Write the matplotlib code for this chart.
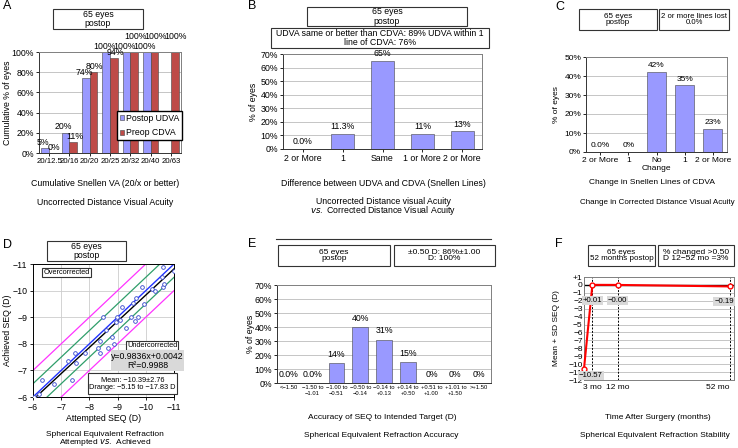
import matplotlib
matplotlib.use('Agg')
import matplotlib.pyplot as plt
from matplotlib.patches import Rectangle
from matplotlib.lines import Line2D
from matplotlib.ticker import PercentFormatter
import numpy as np

plt.rcParams['font.family'] = ['Liberation Sans', 'DejaVu Sans']
plt.rcParams['font.size'] = 6.3
plt.rcParams['axes.linewidth'] = 0.7

W, H = 738, 448
BLUE = '#9999ff'
RED = '#be4b48'

# ---- data ----
# A: cumulative Snellen VA
a_cats = ['20/12.5', '20/16', '20/20', '20/25', '20/32', '20/40', '20/63']
a_udva = [5, 20, 74, 100, 100, 100, np.nan]
a_udva_labels = ['5%', '20%', '74%', '100%', '100%', '100%', '']
a_cdva = [0, 11, 80, 94, 100, 100, 100]
a_cdva_labels = ['0%', '11%', '80%', '94%', '100%', '100%', '100%']

# B: UDVA vs CDVA
b_cats = ['2 or More', '1', 'Same', '1 or More', '2 or More']
b_vals = [0, 11.3, 65, 11, 13]
b_labels = ['0.0%', '11.3%', '65%', '11%', '13%']

# C: change in CDVA lines
c_cats = ['2 or More', '1', 'No\nChange', '1', '2 or More']
c_vals = [0, 0, 42, 35, 12.3]
c_labels = ['0.0%', '0%', '42%', '35%', '23%']

# D: attempted vs achieved SEQ
d_att = [-6.04, -6.21, -6.31, -6.75, -7.24, -7.39, -7.50, -7.54, -7.84, -8.30,
         -8.37, -8.39, -8.49, -8.58, -8.67, -8.81, -8.87, -8.94, -8.99, -9.10,
         -9.16, -9.31, -9.47, -9.55, -9.60, -9.64, -9.73, -9.85, -9.93, -10.21,
         -10.32, -10.56, -10.62, -10.60, -10.64, -11.0]
d_ach = [-6.00, -6.10, -6.64, -6.50, -7.36, -6.64, -7.65, -7.26, -7.67, -7.85,
         -7.66, -8.11, -8.99, -8.51, -7.86, -8.26, -8.01, -8.83, -8.99, -8.88,
         -9.37, -8.61, -8.99, -9.52, -8.86, -9.74, -8.99, -10.15, -9.49, -10.06,
         -9.99, -10.50, -10.87, -10.15, -10.25, -10.75]
d_slope, d_icpt = 0.9836, 0.0042
d_range = [-6, -11]

# E: SEQ accuracy
e_cats = ['<\u22121.50', '\u22121.50 to\n\u22121.01', '\u22121.00 to\n\u22120.51',
          '\u22120.50 to\n\u22120.14', '\u22120.14 to\n+0.13', '+0.14 to\n+0.50',
          '+0.51 to\n+1.00', '+1.01 to\n+1.50', '>+1.50']
e_vals = [0, 0, 14, 40, 31, 15, 0, 0, 0]
e_labels = ['0.0%', '0.0%', '14%', '40%', '31%', '15%', '0%', '0%', '0%']

# F: stability
f_months = [0, 3, 12, 52]
f_seq = [-10.57, 0.01, -0.00, -0.19]
f_labels = ['\u221210.57', '+0.01', '\u22120.00', '\u22120.19']
f_ticks = [3, 12, 52]
f_ticklabels = ['3 mo', '12 mo', '52 mo']


def rect(l, t, r, b):
    return [l / W, 1 - b / H, (r - l) / W, (b - t) / H]


def box(l, t, r, b, text, fc='white', ec='#333333', fs=6.3):
    fig.add_artist(Rectangle((l / W, 1 - b / H), (r - l) / W, (b - t) / H,
                             transform=fig.transFigure, fc=fc, ec=ec, lw=0.8))
    fig.text((l + r) / 2 / W, 1 - (t + b) / 2 / H, text, ha='center',
             va='center', fontsize=fs, linespacing=1.0)


def ftext(x, y, s, **kw):
    fig.text(x / W, 1 - y / H, s, ha='center', va='center', **kw)


def ylabel_at(ax, text, xpix, left, right, fs=6.3):
    # xpix = right edge of the rotated label, in figure pixels
    ax.set_ylabel(text, fontsize=fs)
    ax.yaxis.set_label_coords((xpix - left) / (right - left), 0.5)


def style_bar_axes(ax, top, step):
    ax.set_ylim(0, top)
    ax.set_yticks(np.arange(0, top + 1, step))
    ax.yaxis.set_major_formatter(PercentFormatter(decimals=0))
    ax.yaxis.grid(True, color='#bbbbbb', lw=0.6)
    ax.set_axisbelow(True)
    for s in ax.spines.values():
        s.set_color('#808080')
    ax.spines['left'].set_color('#333333')
    ax.spines['bottom'].set_color('#333333')
    ax.tick_params(length=2, width=0.6, pad=1.5, labelsize=6.3)


def bar_labels(ax, xs, vals, labels, dy=2, fs=6.3):
    for x, v, lab in zip(xs, vals, labels):
        if lab:
            ax.annotate(lab, (x, 0 if np.isnan(v) else v), xytext=(0, dy),
                        textcoords='offset points', ha='center', va='bottom',
                        fontsize=fs, annotation_clip=False)


fig = plt.figure(figsize=(W / 100, H / 100), dpi=100)

# ---------------- A ----------------
ax = fig.add_axes(rect(39, 52, 181, 153))
x = np.arange(len(a_cats))
w = 0.38
ax.bar(x - w / 2, a_udva, w, color=BLUE, edgecolor='#444444', lw=0.4,
       label='Postop UDVA')
ax.bar(x + w / 2, a_cdva, w, color=RED, edgecolor='#444444', lw=0.4,
       label='Preop CDVA')
style_bar_axes(ax, 100, 20)
ax.set_xlim(-0.5, len(a_cats) - 0.5)
ax.set_xticks(x)
ax.set_xticklabels(a_cats, fontsize=5.6)
ylabel_at(ax, 'Cumulative % of eyes', 12, 39, 181)
for xi, v, lab in zip(x - w / 2, a_udva, a_udva_labels):
    if lab:
        ax.annotate(lab, (xi - 0.1, v), xytext=(0, 1), textcoords='offset points',
                    ha='center', va='bottom', annotation_clip=False)
for xi, v, lab in zip(x + w / 2, a_cdva, a_cdva_labels):
    dy = 8 if v >= 100 else 1
    ax.annotate(lab, (xi + 0.05, v), xytext=(0, dy), textcoords='offset points',
                ha='center', va='bottom', annotation_clip=False)
ax.legend(loc='lower left', bbox_to_anchor=(0.55, 0.13), fontsize=6.3,
          frameon=True, fancybox=False, edgecolor='black', framealpha=1,
          handlelength=0.5, handleheight=0.5, handletextpad=0.2,
          borderpad=0.3, labelspacing=0.6, borderaxespad=0)
box(53, 9, 143, 29, '65 eyes\npostop')
ftext(105, 183, 'Cumulative Snellen VA (20/x or better)')
ftext(105, 202, 'Uncorrected Distance Visual Acuity')
fig.text(3 / W, 1 - 6 / H, 'A', fontsize=9, va='center')

# ---------------- B ----------------
ax = fig.add_axes(rect(283, 54, 482, 149))
x = np.arange(len(b_cats))
ax.bar(x, b_vals, 0.58, color=BLUE, edgecolor='#444444', lw=0.4)
style_bar_axes(ax, 70, 10)
ax.set_xlim(-0.5, len(b_cats) - 0.5)
ax.set_xticks(x)
ax.set_xticklabels(b_cats)
ylabel_at(ax, '% of eyes', 258, 283, 482)
bar_labels(ax, x, b_vals, b_labels)
box(307, 7, 467, 26, '65 eyes\npostop')
box(271, 28, 489, 48, 'UDVA same or better than CDVA: 89% UDVA within 1\nline of CDVA: 76%')
ftext(383, 183, 'Difference between UDVA and CDVA (Snellen Lines)')
ftext(383, 201, 'Uncorrected Distance visual Acuity')
fig.text(383 / W, 1 - 210.5 / H, r'$\it{vs.}$ Corrected Distance Visual Acuity',
         ha='center', va='center')
fig.text(248 / W, 1 - 6 / H, 'B', fontsize=9, va='center')

# ---------------- C ----------------
ax = fig.add_axes(rect(586, 57, 727, 152))
x = np.arange(len(c_cats))
ax.bar(x, c_vals, 0.68, color=BLUE, edgecolor='#444444', lw=0.4)
style_bar_axes(ax, 50, 10)
ax.set_xlim(-0.5, len(c_cats) - 0.5)
ax.set_xticks(x)
ax.set_xticklabels(c_cats, fontsize=6, linespacing=1.3)
ax.tick_params(axis='y', labelsize=6)
ylabel_at(ax, '% of eyes', 560, 586, 727, fs=6)
bar_labels(ax, x, c_vals, c_labels, fs=6)
box(579, 9, 657, 30, '65 eyes\npostop', fs=5.8)
box(659, 9, 729, 30, '2 or more lines lost\n0.0%', fs=5.6)
ftext(652, 183, 'Change in Snellen Lines of CDVA', fontsize=6)
ftext(657, 202, 'Change in Corrected Distance Visual Acuity', fontsize=5.8)
fig.text(555 / W, 1 - 7 / H, 'C', fontsize=9, va='center')

# ---------------- D ----------------
ax = fig.add_axes(rect(33, 264, 174, 397))
xr = np.array(d_range, dtype=float)
for off, col in [(1, '#ff33ff'), (-1, '#ff33ff'), (0.5, '#2f9e6a'), (-0.5, '#2f9e6a')]:
    ax.plot(xr, xr - off, color=col, lw=0.9)
ax.plot(xr, xr, color='#2233ff', lw=1.0)
ax.plot(xr, d_slope * xr + d_icpt, color='black', lw=1.0)
ax.scatter(d_att, d_ach, s=7, facecolors='white', edgecolors='#3344cc',
           linewidths=0.6, zorder=3)
ax.set_xlim(-6, -11)
ax.set_ylim(-6, -11)
ax.set_xticks([-6, -7, -8, -9, -10, -11])
ax.set_yticks([-6, -7, -8, -9, -10, -11])
ax.grid(True, color='#cccccc', lw=0.6)
ax.set_axisbelow(True)
ax.tick_params(length=2, width=0.6, pad=2, labelsize=6.3)
ax.set_xlabel('Attempted SEQ (D)', labelpad=2)
ylabel_at(ax, 'Achieved SEQ (D)', 12, 33, 174)
box(47, 241, 126, 261, '65 eyes\npostop')
box(42, 268, 91, 277, 'Overcorrected', fs=5.3)
box(126, 341, 178, 350, 'Undercorrected', fs=5.3)
box(111, 350, 184, 371, 'y=0.9836x+0.0042\nR\u00b2=0.9988', fc='#d9d9d9', ec='none')
box(88, 373, 177, 394, 'Mean: \u221210.39\u00b12.76\nDrange: \u22125.15 to \u221217.83 D', fs=5.3)
ftext(105, 434, 'Spherical Equivalent Refraction', fontsize=6)
fig.text(105 / W, 1 - 442.5 / H, r'Attempted $\it{vs.}$ Achieved', fontsize=6,
         ha='center', va='center')
fig.text(3 / W, 1 - 245 / H, 'D', fontsize=9, va='center')

# ---------------- E ----------------
ax = fig.add_axes(rect(277, 285, 491, 383))
x = np.arange(len(e_cats))
ax.bar(x, e_vals, 0.66, color=BLUE, edgecolor='#444444', lw=0.4)
style_bar_axes(ax, 70, 10)
ax.set_xlim(-0.5, len(e_cats) - 0.5)
ax.set_xticks(x)
ax.set_xticklabels(e_cats, fontsize=4.2, linespacing=1.2)
ax.tick_params(axis='x', length=0)
ylabel_at(ax, '% of eyes', 255, 277, 491)
bar_labels(ax, x, e_vals, e_labels, dy=3)
fig.add_artist(Line2D([276 / W, 491 / W], [1 - 239 / H, 1 - 239 / H],
                      transform=fig.transFigure, color='#333333', lw=0.8))
box(278, 245, 390, 266, '65 eyes\npostop', fs=6)
box(394, 245, 495, 266, '\u00b10.50 D: 86%\u00b11.00\nD: 100%', fs=6)
ftext(382, 417, 'Accuracy of SEQ to Intended Target (D)', fontsize=6)
ftext(381, 435, 'Spherical Equivalent Refraction Accuracy', fontsize=6)
fig.text(248 / W, 1 - 244 / H, 'E', fontsize=9, va='center')

# ---------------- F ----------------
ax = fig.add_axes(rect(584, 277, 734, 380))
yt = np.arange(1, -13, -1)
ax.set_ylim(-12, 1)
ax.set_xlim(0, 53.6)
ax.set_yticks(yt)
ax.set_yticklabels(['+%d' % v if v > 0 else ('0' if v == 0 else '\u2212%d' % -v) for v in yt],
                   fontsize=6)
ax.yaxis.grid(True, color='#bbbbbb', lw=0.6)
ax.set_axisbelow(True)
for m in f_months:
    ax.axvline(m, color='black', ls=(0, (2, 1.5)), lw=0.7)
ax.axhline(0, color='black', lw=1.0)
ax.plot(f_months, f_seq, color='red', lw=1.5, marker='o', ms=3.5,
        mfc='white', mec='red', mew=1, clip_on=False, zorder=4)
label_offsets = [(5, -5), (0, -11), (0, -11), (-4, -11)]
for m, v, lab, off in zip(f_months, f_seq, f_labels, label_offsets):
    ax.annotate(lab, (m, v), xytext=off, textcoords='offset points',
                ha='center', va='center', fontsize=5.6, annotation_clip=False,
                bbox=dict(fc='#d9d9d9', ec='none', pad=0.8), zorder=5)
ax.set_xticks(f_ticks)
ax.set_xticklabels(f_ticklabels, fontsize=6)
ax.get_xticklabels()[-1].set_horizontalalignment('right')
ax.tick_params(length=0, pad=3)
ax.tick_params(axis='y', pad=1)
for s in ax.spines.values():
    s.set_color('#808080')
ylabel_at(ax, 'Mean + SD SEQ (D)', 560, 584, 734, fs=6)
box(588, 245, 655, 266, '65 eyes\n52 months postop', fs=5.8)
box(658, 245, 734, 266, '% changed >0.50\nD 12\u221252 mo =3%', fs=6)
ftext(658, 417, 'Time After Surgery (months)', fontsize=6)
ftext(655, 435, 'Spherical Equivalent Refraction Stability', fontsize=6)
fig.text(555 / W, 1 - 244 / H, 'F', fontsize=9, va='center')

fig.savefig('out.png', dpi=100)
